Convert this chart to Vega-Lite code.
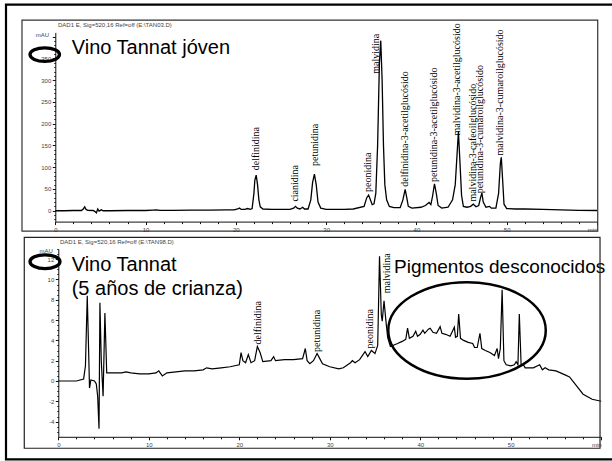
{
  "$schema": "https://vega.github.io/schema/vega-lite/v6.json",
  "width": 612,
  "height": 461,
  "autosize": {"type": "none"},
  "padding": 0,
  "background": "white",
  "config": {
    "view": {"stroke": null},
    "axis": {"labelFont": "Liberation Sans", "labelFontSize": 6, "labelColor": "#444", "domainColor": "#111", "tickColor": "#111", "domainWidth": 1, "tickWidth": 1, "grid": false, "labelPadding": 1.5}
  },
  "resolve": {"scale": {"x": "independent", "y": "independent"}, "axis": {"x": "independent", "y": "independent"}},
  "layer": [
    {
      "encoding": {
        "x": {"field": "t", "type": "quantitative", "scale": {"domain": [0, 60], "range": [55.3, 597], "nice": false, "zero": false},
          "axis": {"orient": "bottom", "offset": -239.4, "title": null,
            "values": [0,2,4,6,8,10,12,14,16,18,20,22,24,26,28,30,32,34,36,38,40,42,44,46,48,50,52,54,56,58,60],
            "labelExpr": "datum.value === 60 ? 'min' : (datum.value % 10 === 0 ? '' + datum.value : '')",
            "labelAlign": {"condition": {"test": "datum.value === 60", "value": "right"}, "value": "center"},
            "tickSize": {"condition": {"test": "datum.value % 10 === 0", "value": 3}, "value": 2}}},
        "y": {"field": "v", "type": "quantitative", "scale": {"domain": [-25, 410], "range": [221.6, 32.4], "nice": false, "zero": false},
          "axis": {"orient": "left", "offset": -55.3, "title": null,
            "values": [-20,-10,0,10,20,30,40,50,60,70,80,90,100,110,120,130,140,150,160,170,180,190,200,210,220,230,240,250,260,270,280,290,300,310,320,330,340,350,360,370,380,390,400],
            "labelExpr": "datum.value % 50 === 0 && datum.value < 400 ? '' + datum.value : ''",
            "tickSize": {"condition": {"test": "datum.value % 50 === 0", "value": 3}, "value": 1.5}}}
      },
      "layer": [
        {
          "data": {"values": [
            {"t": 0, "v": 0}, {"t": 1, "v": 0}, {"t": 2, "v": 0.5}, {"t": 2.9, "v": 0.5}, {"t": 3.1, "v": 4}, {"t": 3.25, "v": 9}, {"t": 3.4, "v": 3}, {"t": 3.6, "v": 1},
            {"t": 4.2, "v": 0.5}, {"t": 4.4, "v": -2}, {"t": 4.55, "v": -5}, {"t": 4.7, "v": 4}, {"t": 4.85, "v": -1}, {"t": 5.1, "v": 2}, {"t": 5.3, "v": 0},
            {"t": 6, "v": 0}, {"t": 8, "v": 0.5}, {"t": 10, "v": 0.5}, {"t": 10.8, "v": 1.5}, {"t": 11.2, "v": 2}, {"t": 11.6, "v": 1}, {"t": 13, "v": 1},
            {"t": 15, "v": 1.5}, {"t": 17, "v": 1.5}, {"t": 19, "v": 2}, {"t": 19.8, "v": 2}, {"t": 20.2, "v": 4}, {"t": 20.4, "v": 6}, {"t": 20.6, "v": 3},
            {"t": 21.0, "v": 3}, {"t": 21.3, "v": 5}, {"t": 21.6, "v": 3}, {"t": 21.8, "v": 5}, {"t": 22.0, "v": 40}, {"t": 22.1, "v": 70}, {"t": 22.25, "v": 82},
            {"t": 22.4, "v": 60}, {"t": 22.55, "v": 25}, {"t": 22.7, "v": 9}, {"t": 23.0, "v": 4}, {"t": 24, "v": 3}, {"t": 25, "v": 3}, {"t": 26, "v": 3},
            {"t": 26.4, "v": 6}, {"t": 26.6, "v": 10}, {"t": 26.8, "v": 6}, {"t": 27.1, "v": 4}, {"t": 27.4, "v": 8}, {"t": 27.6, "v": 4}, {"t": 28.0, "v": 4},
            {"t": 28.3, "v": 25}, {"t": 28.5, "v": 65}, {"t": 28.7, "v": 84}, {"t": 28.9, "v": 60}, {"t": 29.1, "v": 20}, {"t": 29.4, "v": 6}, {"t": 30, "v": 3},
            {"t": 31, "v": 3}, {"t": 32, "v": 3}, {"t": 33, "v": 4}, {"t": 34.2, "v": 10}, {"t": 34.5, "v": 30}, {"t": 34.7, "v": 36}, {"t": 34.9, "v": 25},
            {"t": 35.1, "v": 14}, {"t": 35.3, "v": 16}, {"t": 35.5, "v": 40}, {"t": 35.7, "v": 150}, {"t": 35.9, "v": 340}, {"t": 36.05, "v": 391}, {"t": 36.2, "v": 300},
            {"t": 36.35, "v": 150}, {"t": 36.5, "v": 60}, {"t": 36.7, "v": 25}, {"t": 37.0, "v": 10}, {"t": 37.5, "v": 7}, {"t": 38.2, "v": 7}, {"t": 38.5, "v": 25},
            {"t": 38.75, "v": 49}, {"t": 38.95, "v": 28}, {"t": 39.1, "v": 10}, {"t": 39.5, "v": 6}, {"t": 40.5, "v": 8}, {"t": 41.0, "v": 12}, {"t": 41.4, "v": 19},
            {"t": 41.6, "v": 14}, {"t": 41.8, "v": 35}, {"t": 42.0, "v": 62}, {"t": 42.2, "v": 40}, {"t": 42.4, "v": 12}, {"t": 42.8, "v": 6}, {"t": 43.5, "v": 8},
            {"t": 44.0, "v": 25}, {"t": 44.3, "v": 60}, {"t": 44.5, "v": 130}, {"t": 44.65, "v": 182}, {"t": 44.8, "v": 120}, {"t": 45.0, "v": 35}, {"t": 45.2, "v": 10},
            {"t": 45.6, "v": 8}, {"t": 46.0, "v": 10}, {"t": 46.3, "v": 15}, {"t": 46.6, "v": 9}, {"t": 46.9, "v": 12}, {"t": 47.1, "v": 30}, {"t": 47.25, "v": 41},
            {"t": 47.4, "v": 20}, {"t": 47.7, "v": 8}, {"t": 48.1, "v": 10}, {"t": 48.3, "v": 6}, {"t": 48.8, "v": 6}, {"t": 49.1, "v": 40}, {"t": 49.3, "v": 110},
            {"t": 49.4, "v": 123}, {"t": 49.55, "v": 70}, {"t": 49.7, "v": 15}, {"t": 50.0, "v": 5}, {"t": 51, "v": 4}, {"t": 52, "v": 4}, {"t": 54, "v": 3},
            {"t": 56, "v": 2}, {"t": 58, "v": 1}, {"t": 60, "v": 0.5}
          ]},
          "mark": {"type": "line", "color": "black", "strokeWidth": 1.3}
        },
        {
          "data": {"values": [
            {"t": 22.2, "v": 93, "label": "delfinidina"},
            {"t": 26.55, "v": 21, "label": "cianidina"},
            {"t": 28.76, "v": 103, "label": "petunidina"},
            {"t": 34.66, "v": 43, "label": "peonidina"},
            {"t": 35.5, "v": 315, "label": "malvidina"},
            {"t": 38.7, "v": 55, "label": "delfinidina-3-acetilglucósido"},
            {"t": 41.9, "v": 66, "label": "petunidina-3-acetilglucósido"},
            {"t": 44.45, "v": 173, "label": "malvidina-3-acetilglucósido"},
            {"t": 46.3, "v": 21, "label": "malvidina-3-cafeoilglucósido"},
            {"t": 47.0, "v": 40, "label": "petunidina-3-cumaroilglucósido"},
            {"t": 49.25, "v": 127, "label": "malvidina-3-cumaroilglucósido"}
          ]},
          "mark": {"type": "text", "angle": 270, "align": "left", "baseline": "middle", "font": "Liberation Serif", "fontSize": 10, "color": "black"},
          "encoding": {"text": {"field": "label"}}
        },
        {
          "data": {"values": [
            {"t": 0.3, "v": 427, "label": "DAD1 E, Sig=520,16 Ref=off (E:\\TAN03.D)"}
          ]},
          "mark": {"type": "text", "align": "left", "baseline": "middle", "font": "Liberation Sans", "fontSize": 6, "color": "#444"},
          "encoding": {"text": {"field": "label"}}
        },
        {
          "data": {"values": [
            {"t": -0.7, "v": 404, "label": "mAU"}
          ]},
          "mark": {"type": "text", "align": "right", "baseline": "middle", "font": "Liberation Sans", "fontSize": 6, "color": "#444"},
          "encoding": {"text": {"field": "label"}}
        },
        {
          "data": {"values": [
            {"t": 1.82, "v": 360, "label": "Vino Tannat jóven"}
          ]},
          "mark": {"type": "text", "align": "left", "baseline": "alphabetic", "font": "Liberation Sans", "fontSize": 20, "color": "black"},
          "encoding": {"text": {"field": "label"}}
        },
        {
          "data": {"values": [{"t": -1.17, "v": 359}]},
          "mark": {"type": "point", "filled": false, "stroke": "black", "strokeWidth": 3.3, "opacity": 1, "size": 870,
            "shape": "M-1,0C-1,-0.254,-0.552,-0.46,0,-0.46C0.552,-0.46,1,-0.254,1,0C1,0.254,0.552,0.46,0,0.46C-0.552,0.46,-1,0.254,-1,0Z"}
        },
        {
          "data": {"values": [{"t": -3.69, "t2": 60.08, "v": 438.4, "v2": -46.7}]},
          "mark": {"type": "rect", "filled": false, "stroke": "#333", "strokeWidth": 1.2},
          "encoding": {"x2": {"field": "t2"}, "y2": {"field": "v2"}}
        }
      ]
    },
    {
      "encoding": {
        "x": {"field": "t", "type": "quantitative", "scale": {"domain": [0, 60], "range": [58.3, 601.2], "nice": false, "zero": false},
          "axis": {"orient": "bottom", "offset": -24.2, "title": null,
            "values": [0,2,4,6,8,10,12,14,16,18,20,22,24,26,28,30,32,34,36,38,40,42,44,46,48,50,52,54,56,58,60],
            "labelExpr": "datum.value === 60 ? 'min' : (datum.value % 10 === 0 ? '' + datum.value : '')",
            "labelAlign": {"condition": {"test": "datum.value === 60", "value": "right"}, "value": "center"},
            "tickSize": {"condition": {"test": "datum.value % 10 === 0", "value": 3}, "value": 2}}},
        "y": {"field": "v", "type": "quantitative", "scale": {"domain": [-5.5, 13], "range": [436.8, 249.05], "nice": false, "zero": false},
          "axis": {"orient": "left", "offset": -58.3, "title": null,
            "values": [-5,-4.5,-4,-3.5,-3,-2.5,-2,-1.5,-1,-0.5,0,0.5,1,1.5,2,2.5,3,3.5,4,4.5,5,5.5,6,6.5,7,7.5,8,8.5,9,9.5,10,10.5,11,11.5,12,12.5,13],
            "labelExpr": "datum.value % 2 === 0 ? '' + datum.value : ''",
            "tickSize": {"condition": {"test": "datum.value % 2 === 0", "value": 3}, "value": 1.5}}}
      },
      "layer": [
        {
          "data": {"values": [
            {"t": 0, "v": 0}, {"t": 2.0, "v": 0}, {"t": 2.8, "v": 0.2}, {"t": 3.0, "v": 1.5}, {"t": 3.2, "v": 8.4}, {"t": 3.35, "v": 3}, {"t": 3.45, "v": -0.7},
            {"t": 3.6, "v": 0.1}, {"t": 4.0, "v": 0}, {"t": 4.2, "v": -0.3}, {"t": 4.35, "v": -1.5}, {"t": 4.5, "v": -4.7}, {"t": 4.6, "v": 7.7}, {"t": 4.75, "v": 2},
            {"t": 4.95, "v": -1.5}, {"t": 5.15, "v": 6.7}, {"t": 5.35, "v": 0.8}, {"t": 6, "v": 0.8}, {"t": 7, "v": 0.8}, {"t": 7.5, "v": 0.9}, {"t": 8, "v": 0.8},
            {"t": 9, "v": 0.7}, {"t": 10, "v": 0.7}, {"t": 10.8, "v": 0.8}, {"t": 11.1, "v": 1.0}, {"t": 11.5, "v": 0.5}, {"t": 12, "v": 0.8}, {"t": 13, "v": 0.9},
            {"t": 14, "v": 1.0}, {"t": 15, "v": 1.0}, {"t": 16, "v": 1.1}, {"t": 16.4, "v": 1.3}, {"t": 17, "v": 1.2}, {"t": 18, "v": 1.3}, {"t": 19, "v": 1.4},
            {"t": 19.5, "v": 1.5}, {"t": 20, "v": 1.6}, {"t": 20.2, "v": 2.8}, {"t": 20.4, "v": 2.0}, {"t": 20.7, "v": 1.8}, {"t": 21.0, "v": 2.6}, {"t": 21.3, "v": 1.8},
            {"t": 21.7, "v": 2.0}, {"t": 22.0, "v": 3.4}, {"t": 22.3, "v": 2.8}, {"t": 22.6, "v": 1.9}, {"t": 23.5, "v": 2.0}, {"t": 23.8, "v": 2.4}, {"t": 24.0, "v": 2.0},
            {"t": 25, "v": 2.1}, {"t": 26, "v": 2.1}, {"t": 27.0, "v": 2.2}, {"t": 27.3, "v": 3.2}, {"t": 27.5, "v": 2.0}, {"t": 27.8, "v": 1.7}, {"t": 28.2, "v": 2.0},
            {"t": 28.6, "v": 2.7}, {"t": 28.9, "v": 2.2}, {"t": 29.2, "v": 1.7}, {"t": 30, "v": 1.4}, {"t": 31, "v": 1.2}, {"t": 31.5, "v": 1.3}, {"t": 32.3, "v": 1.8},
            {"t": 32.5, "v": 2.0}, {"t": 32.8, "v": 1.8}, {"t": 33.3, "v": 2.1}, {"t": 33.9, "v": 2.9}, {"t": 34.2, "v": 2.4}, {"t": 34.6, "v": 3.0}, {"t": 35.0, "v": 2.7},
            {"t": 35.3, "v": 3.5}, {"t": 35.5, "v": 12.3}, {"t": 35.7, "v": 6.5}, {"t": 35.8, "v": 5.9}, {"t": 36.0, "v": 7.9}, {"t": 36.2, "v": 6.0}, {"t": 36.4, "v": 4.3},
            {"t": 36.7, "v": 3.4}, {"t": 37.5, "v": 3.7}, {"t": 38.0, "v": 3.9}, {"t": 38.4, "v": 4.1}, {"t": 38.6, "v": 5.2}, {"t": 38.8, "v": 4.2}, {"t": 39.2, "v": 4.4},
            {"t": 39.5, "v": 4.9}, {"t": 39.7, "v": 4.4}, {"t": 40.0, "v": 4.6}, {"t": 40.3, "v": 5.0}, {"t": 40.5, "v": 4.7}, {"t": 40.9, "v": 5.1}, {"t": 41.1, "v": 5.2},
            {"t": 41.4, "v": 4.8}, {"t": 41.8, "v": 4.7}, {"t": 42.2, "v": 5.35}, {"t": 42.4, "v": 4.7}, {"t": 42.8, "v": 4.6}, {"t": 43.3, "v": 4.4}, {"t": 43.77, "v": 5.3},
            {"t": 43.9, "v": 4.3}, {"t": 44.1, "v": 4.4}, {"t": 44.25, "v": 6.6}, {"t": 44.45, "v": 4.2}, {"t": 44.8, "v": 4.0}, {"t": 45.3, "v": 3.8}, {"t": 45.8, "v": 3.7},
            {"t": 46.0, "v": 3.3}, {"t": 46.3, "v": 3.3}, {"t": 46.6, "v": 4.7}, {"t": 46.8, "v": 3.2}, {"t": 47.2, "v": 3.0}, {"t": 47.7, "v": 2.8}, {"t": 48.2, "v": 2.5},
            {"t": 48.5, "v": 3.2}, {"t": 48.65, "v": 2.2}, {"t": 48.85, "v": 3.2}, {"t": 49.05, "v": 9.0}, {"t": 49.25, "v": 2.0}, {"t": 49.5, "v": 1.6}, {"t": 50.0, "v": 1.5},
            {"t": 50.4, "v": 1.6}, {"t": 50.6, "v": 1.9}, {"t": 50.8, "v": 1.6}, {"t": 50.95, "v": 6.6}, {"t": 51.15, "v": 1.6}, {"t": 51.4, "v": 1.6}, {"t": 51.6, "v": 1.3},
            {"t": 52.5, "v": 1.3}, {"t": 53.2, "v": 1.6}, {"t": 53.5, "v": 1.1}, {"t": 53.8, "v": 1.3}, {"t": 54.2, "v": 1.1}, {"t": 55, "v": 1.0}, {"t": 56, "v": 0.6},
            {"t": 56.5, "v": 0.4}, {"t": 57.3, "v": -0.5}, {"t": 58, "v": -1.3}, {"t": 59, "v": -1.8}, {"t": 60, "v": -2.0}
          ]},
          "mark": {"type": "line", "color": "black", "strokeWidth": 1.2}
        },
        {
          "data": {"values": [
            {"t": 22.1, "v": 3.6, "label": "delfinidina"},
            {"t": 28.6, "v": 2.85, "label": "petunidina"},
            {"t": 34.5, "v": 3.2, "label": "peonidina"},
            {"t": 36.3, "v": 8.65, "label": "malvidina"}
          ]},
          "mark": {"type": "text", "angle": 270, "align": "left", "baseline": "middle", "font": "Liberation Serif", "fontSize": 10, "color": "black"},
          "encoding": {"text": {"field": "label"}}
        },
        {
          "data": {"values": [
            {"t": 0.19, "v": 13.7, "label": "DAD1 E, Sig=520,16 Ref=off (E:\\TAN98.D)"}
          ]},
          "mark": {"type": "text", "align": "left", "baseline": "middle", "font": "Liberation Sans", "fontSize": 6, "color": "#444"},
          "encoding": {"text": {"field": "label"}}
        },
        {
          "data": {"values": [
            {"t": -0.59, "v": 12.84, "label": "mAU"}
          ]},
          "mark": {"type": "text", "align": "right", "baseline": "middle", "font": "Liberation Sans", "fontSize": 6, "color": "#444"},
          "encoding": {"text": {"field": "label"}}
        },
        {
          "data": {"values": [
            {"t": 1.48, "v": 10.88, "label": "Vino Tannat"},
            {"t": 1.48, "v": 8.48, "label": "(5 años de crianza)"}
          ]},
          "mark": {"type": "text", "align": "left", "baseline": "alphabetic", "font": "Liberation Sans", "fontSize": 20, "color": "black"},
          "encoding": {"text": {"field": "label"}}
        },
        {
          "data": {"values": [
            {"t": 37.1, "v": 10.65, "label": "Pigmentos desconocidos"}
          ]},
          "mark": {"type": "text", "align": "left", "baseline": "alphabetic", "font": "Liberation Sans", "fontSize": 19, "color": "black"},
          "encoding": {"text": {"field": "label"}}
        },
        {
          "data": {"values": [{"t": -1.47, "v": 11.75}]},
          "mark": {"type": "point", "filled": false, "stroke": "black", "strokeWidth": 3.3, "opacity": 1, "size": 900,
            "shape": "M-1,0C-1,-0.254,-0.552,-0.46,0,-0.46C0.552,-0.46,1,-0.254,1,0C1,0.254,0.552,0.46,0,0.46C-0.552,0.46,-1,0.254,-1,0Z"}
        },
        {
          "data": {"values": [{"t": 45.17, "v": 4.98}]},
          "mark": {"type": "point", "filled": false, "stroke": "black", "strokeWidth": 2.5, "opacity": 1, "size": 24806,
            "shape": "M-1,0C-1,-0.3385,-0.552,-0.613,0,-0.613C0.552,-0.613,1,-0.3385,1,0C1,0.3385,0.552,0.613,0,0.613C-0.552,0.613,-1,0.3385,-1,0Z"}
        },
        {
          "data": {"values": [{"t": -3.76, "t2": 59.87, "v": 14.16, "v2": -6.63}]},
          "mark": {"type": "rect", "filled": false, "stroke": "#222", "strokeWidth": 1.2},
          "encoding": {"x2": {"field": "t2"}, "y2": {"field": "v2"}}
        },
        {
          "data": {"values": [{"t": -5.78, "t2": 62.1, "v": 37.09, "v2": -7.73}]},
          "mark": {"type": "rect", "filled": false, "stroke": "black", "strokeWidth": 2.2},
          "encoding": {"x2": {"field": "t2"}, "y2": {"field": "v2"}}
        }
      ]
    }
  ]
}
